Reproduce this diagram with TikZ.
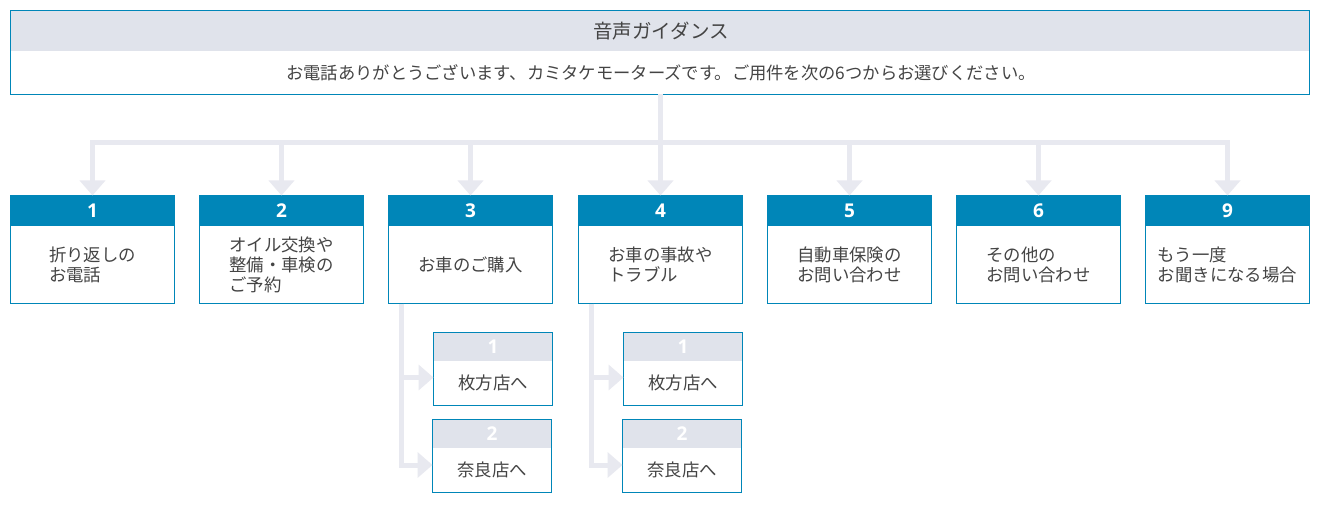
\documentclass[tikz,border=0pt]{standalone}
\usepackage{fontspec}
\setmainfont{Noto Sans CJK JP}
\newfontfamily\numfont{Open Sans}
\usetikzlibrary{arrows.meta,calc}
\definecolor{bblue}{HTML}{0086B8}
\definecolor{hgray}{HTML}{E0E3EB}
\definecolor{cgray}{HTML}{E8E9F0}
\definecolor{tgray}{HTML}{444444}
\newcommand\mainbox[4]{%
  \node[hdrB, anchor=north west] (#1h) at (#2,195) {#3};
  \node[frame, minimum width=164pt, minimum height=108pt, anchor=north west] (#1) at (#2+0.5,195.5) {};
  \node[bodytxt] (#1t) at ($(#1h.south)!0.5!(#1.south)$) {#4};
}
\newcommand\subbox[5]{%
  \node[hdrG, anchor=north west] (#1h) at (#2,#3) {#4};
  \node[frame, minimum width=119pt, minimum height=73pt, anchor=north west] (#1) at (#2+0.5,#3+0.5) {};
  \node[bodytxt] (#1t) at ($(#1h.south)!0.5!(#1.south)$) {#5};
}
\begin{document}
\begin{tikzpicture}[x=1pt,y=-1pt,
  every node/.style={inner sep=0pt, outer sep=0pt},
  frame/.style={draw=bblue, line width=1pt},
  hdrB/.style={fill=bblue, minimum width=165pt, minimum height=31pt, text=white,
    font=\numfont\bfseries\fontsize{19}{19}\selectfont},
  hdrG/.style={fill=hgray, minimum width=120pt, minimum height=29pt, text=white,
    font=\numfont\bfseries\fontsize{19}{19}\selectfont},
  bodytxt/.style={align=left, text=tgray, font=\fontsize{17.4}{20}\selectfont},
  conn/.style={draw=cgray, line width=5pt},
  arr/.style={-{Triangle[width=25pt,length=15pt]}}]
\useasboundingbox[fill=white] (0,0) rectangle (1320,505);

% top box
\node[fill=hgray, minimum width=1300pt, minimum height=41pt, anchor=north west] (toph) at (10,10) {};
\node[frame, minimum width=1299pt, minimum height=84pt, anchor=north west] (top) at (10.5,10.5) {};
\node[text=tgray, font=\fontsize{19.5}{20}\selectfont] (title) at (661,31) {音声ガイダンス};
\node[text=tgray, font=\fontsize{17.3}{20}\selectfont] (msg) at (661,73) {お電話ありがとうございます、カミタケモーターズです。ご用件を次の6つからお選びください。};

% main boxes
\mainbox{b1}{10}{1}{折り返しの\\お電話}
\mainbox{b2}{199}{2}{オイル交換や\\整備・車検の\\ご予約}
\mainbox{b3}{388}{3}{お車のご購入}
\mainbox{b4}{578}{4}{お車の事故や\\トラブル}
\mainbox{b5}{767}{5}{自動車保険の\\お問い合わせ}
\mainbox{b6}{956}{6}{その他の\\お問い合わせ}
\mainbox{b7}{1145}{9}{もう一度\\お聞きになる場合}

% sub boxes
\subbox{s31}{433}{332}{1}{枚方店へ}
\subbox{s32}{432}{419}{2}{奈良店へ}
\subbox{s41}{623}{332}{1}{枚方店へ}
\subbox{s42}{622}{419}{2}{奈良店へ}

% main connectors
\coordinate (bus) at (660,142.5);
\draw[conn] (top.south) -- (bus);
\draw[conn, line cap=rect] (b1.north |- bus) -- (b7.north |- bus);
\foreach \n in {b1,b2,b3,b4,b5,b6,b7}
  \draw[conn, arr] (\n.north |- bus) -- (\n.north);

% sub connectors
\foreach \p/\q/\r in {b3/s31/s32, b4/s41/s42}{
  \coordinate (v) at ($(\p.south west)+(12.5,0)$);
  \coordinate (a1) at ($(\q.north west)+(0,45)$);
  \coordinate (a2) at ($(\r.north west)+(0,45.5)$);
  \draw[conn, arr] (v) -- (v |- a2) -- (a2);
  \draw[conn, arr] (v |- a1) -- (a1);
}
\end{tikzpicture}
\end{document}
